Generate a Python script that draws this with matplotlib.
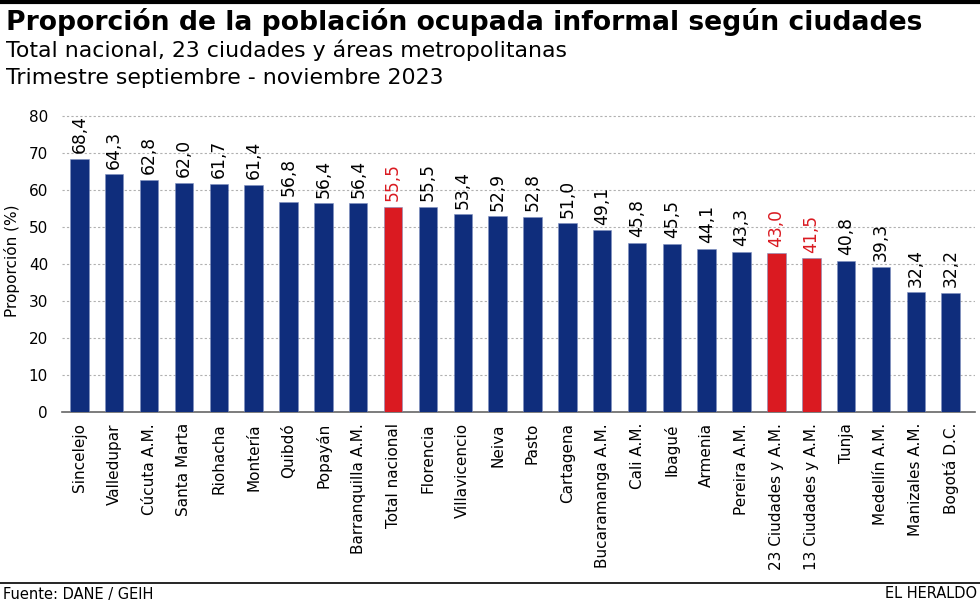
import matplotlib
matplotlib.use("Agg")
import matplotlib.pyplot as plt
from matplotlib.lines import Line2D

categories = ["Sincelejo", "Valledupar", "Cúcuta A.M.", "Santa Marta", "Riohacha", "Montería",
              "Quibdó", "Popayán", "Barranquilla A.M.", "Total nacional", "Florencia",
              "Villavicencio", "Neiva", "Pasto", "Cartagena", "Bucaramanga A.M.", "Cali A.M.",
              "Ibagué", "Armenia", "Pereira A.M.", "23 Ciudades y A.M.", "13 Ciudades y A.M.",
              "Tunja", "Medellín A.M.", "Manizales A.M.", "Bogotá D.C."]
values = [68.4, 64.3, 62.8, 62.0, 61.7, 61.4, 56.8, 56.4, 56.4, 55.5, 55.5, 53.4, 52.9, 52.8,
          51.0, 49.1, 45.8, 45.5, 44.1, 43.3, 43.0, 41.5, 40.8, 39.3, 32.4, 32.2]
highlight = ["Total nacional", "23 Ciudades y A.M.", "13 Ciudades y A.M."]
yticks = [0, 10, 20, 30, 40, 50, 60, 70, 80]

NAVY = "#0f2d7c"
RED = "#da1a21"

plt.rcParams['font.family'] = ['DejaVu Sans']

fig = plt.figure(figsize=(9.8, 6.03), dpi=100)
n = len(categories)
ax = fig.add_axes([0.0632, 1 - 412 / 603, 0.995 - 0.0632, (412 - 108.6) / 603])

cols = [RED if c in highlight else NAVY for c in categories]
xs = list(range(n))
ax.bar(xs, values, width=0.53, color=cols, edgecolor="#8090c0", linewidth=0.4, zorder=3)
for x, v, c in zip(xs, values, cols):
    ax.text(x, v + 1.5, f"{v:.1f}".replace(".", ","), rotation=90, ha="center", va="bottom",
            fontsize=12.3, color=(RED if c == RED else "black"))

ax.set_xlim(-0.5, n - 0.3)
ax.set_ylim(0, 82)
ax.set_yticks(yticks)
ax.set_yticklabels([str(t) for t in yticks], fontsize=11)
ax.set_xticks(xs)
ax.set_xticklabels(categories, rotation=90, fontsize=11)
ax.tick_params(axis="y", length=0, pad=10)
ax.tick_params(axis="x", length=0, pad=8)
for y in yticks[1:]:
    ax.axhline(y, color="#b0b0b0", linestyle=(0, (2, 2)), linewidth=0.8, zorder=1)
for s in ["top", "right", "left"]:
    ax.spines[s].set_visible(False)
ax.spines["bottom"].set_color("#666666")
ax.spines["bottom"].set_linewidth(1.2)
ax.set_ylabel("Proporción (%)", fontsize=11, labelpad=6)

fig.add_artist(Line2D([0, 1], [1 - 2 / 603, 1 - 2 / 603], color="black", linewidth=3))
fig.text(0.006, 1 - 22 / 603, "Proporción de la población ocupada informal según ciudades",
         fontsize=19.2, fontweight="bold", va="center", ha="left")
fig.text(0.006, 1 - 50 / 603, "Total nacional, 23 ciudades y áreas metropolitanas",
         fontsize=15.8, va="center", ha="left")
fig.text(0.006, 1 - 78 / 603, "Trimestre septiembre - noviembre 2023",
         fontsize=15.8, va="center", ha="left")

fig.add_artist(Line2D([0, 1], [1 - 583 / 603, 1 - 583 / 603], color="black", linewidth=1.2))
fig.text(0.003, 1 - 594 / 603, "Fuente: DANE / GEIH", fontsize=10.5, va="center", ha="left")
fig.text(0.997, 1 - 594 / 603, "EL HERALDO", fontsize=10.5, va="center", ha="right")

fig.savefig("out.png", dpi=100)
